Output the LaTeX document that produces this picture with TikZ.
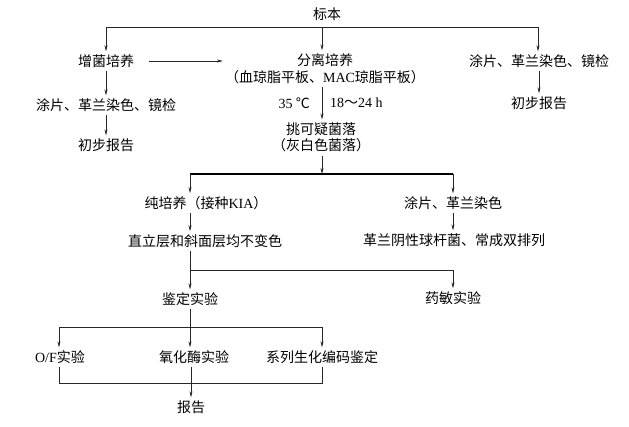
\documentclass[tikz,border=0pt]{standalone}
\usepackage{fontspec}
\setmainfont{Noto Sans CJK SC}
\newfontfamily\lat{Liberation Serif}
\usetikzlibrary{arrows.meta}
\tikzset{
  txt/.style={inner sep=3pt, font=\fontsize{14pt}{16.5pt}\selectfont, align=center},
  ln/.style={draw=black!85, line width=0.6pt},
  arr/.style={ln, -{Stealth[length=6pt,width=3pt]}},
  thick bus/.style={draw=black, line width=1.4pt}
}
\begin{document}
\begin{tikzpicture}[x=1pt,y=-1pt]
\useasboundingbox (0,0) rectangle (629,426);
% nodes
\node[txt] (biao) at (327,14) {标本};
\node[txt] (zeng) at (106,61) {增菌培养};
\node[txt] (fenli) at (325,68.5) {分离培养\\（血琼脂平板、{\lat MAC}琼脂平板）};
\node[txt] (tup2) at (539,61) {涂片、革兰染色、镜检};
\node[txt] (tup1) at (106,105) {涂片、革兰染色、镜检};
\node[txt] (chu1) at (106,145) {初步报告};
\node[txt] (chu2) at (539,103) {初步报告};
\node[txt, anchor=east] (temp) at (313,103) {{\lat 35} ℃};
\node[txt, anchor=west] (time) at (327,103) {{\lat 18}～{\lat 24 h}};
\node[txt] (tiao) at (321,137.5) {挑可疑菌落\\（灰白色菌落）};
\node[txt] (chun) at (206,203) {纯培养（接种{\lat KIA}）};
\node[txt] (tup3) at (453,203) {涂片、革兰染色};
\node[txt] (zhi) at (205,241) {直立层和斜面层均不变色};
\node[txt] (gel) at (454,240) {革兰阴性球杆菌、常成双排列};
\node[txt] (jian) at (190,299) {鉴定实验};
\node[txt] (yao) at (453,298) {药敏实验};
\node[txt] (of) at (60,357) {{\lat O/F}实验};
\node[txt] (yang) at (194,357) {氧化酶实验};
\node[txt] (xi) at (322,357) {系列生化编码鉴定};
\node[txt] (bao) at (191,407) {报告};
% bus coordinates
\coordinate (b1l) at (106,27);
\coordinate (b1r) at (538,27);
\coordinate (b1m) at (322,27);
\coordinate (b2l) at (190,174);
\coordinate (b2r) at (453,174);
\coordinate (b2m) at (322,174);
\coordinate (b3l) at (190,270);
\coordinate (b3r) at (453,270);
\coordinate (b4l) at (59,327);
\coordinate (b4r) at (322,327);
\coordinate (b5l) at (59,383);
\coordinate (b5r) at (322,383);
% connectors
\draw[ln] (b1l) -- (b1r);
\draw[arr] (b1l) -- (zeng.north);
\draw[arr] (b1m) -- (b1m |- fenli.north);
\draw[arr] (b1r) -- (b1r |- tup2.north);
\draw[arr] ([xshift=12pt]zeng.east) -- ([xshift=1pt]fenli.west |- zeng);
\draw[arr] (zeng) -- (tup1);
\draw[arr] (tup1) -- (chu1);
\draw[arr] (tup2) -- (chu2);
\draw[arr] (b1m |- fenli.south) -- (b1m |- tiao.north);
\draw[arr] (b2m |- tiao.south) -- (b2m);
\draw[thick bus] (b2l) -- (b2r);
\draw[arr] (b2l) -- (b2l |- chun.north);
\draw[arr] (b2r) -- (b2r |- tup3.north);
\draw[arr] (b2l |- chun.south) -- (b2l |- zhi.north);
\draw[arr] (b2r |- tup3.south) -- (b2r |- gel.north);
\draw[ln] (b3l |- zhi.south) -- (b3l) -- (b3r);
\draw[arr] (b3l) -- (jian.north);
\draw[arr] (b3r) -- (yao.north);
\draw[arr] (jian.south) -- (jian.south |- yang.north);
\draw[ln] (b4l) -- (b4r);
\draw[arr] (b4l) -- (b4l |- of.north);
\draw[arr] (b4r) -- (xi.north);
\draw[ln] (b5l |- of.south) -- (b5l) -- (b5r) -- (xi.south);
\draw[arr] (bao.north |- yang.south) -- (bao.north);
\end{tikzpicture}
\end{document}
